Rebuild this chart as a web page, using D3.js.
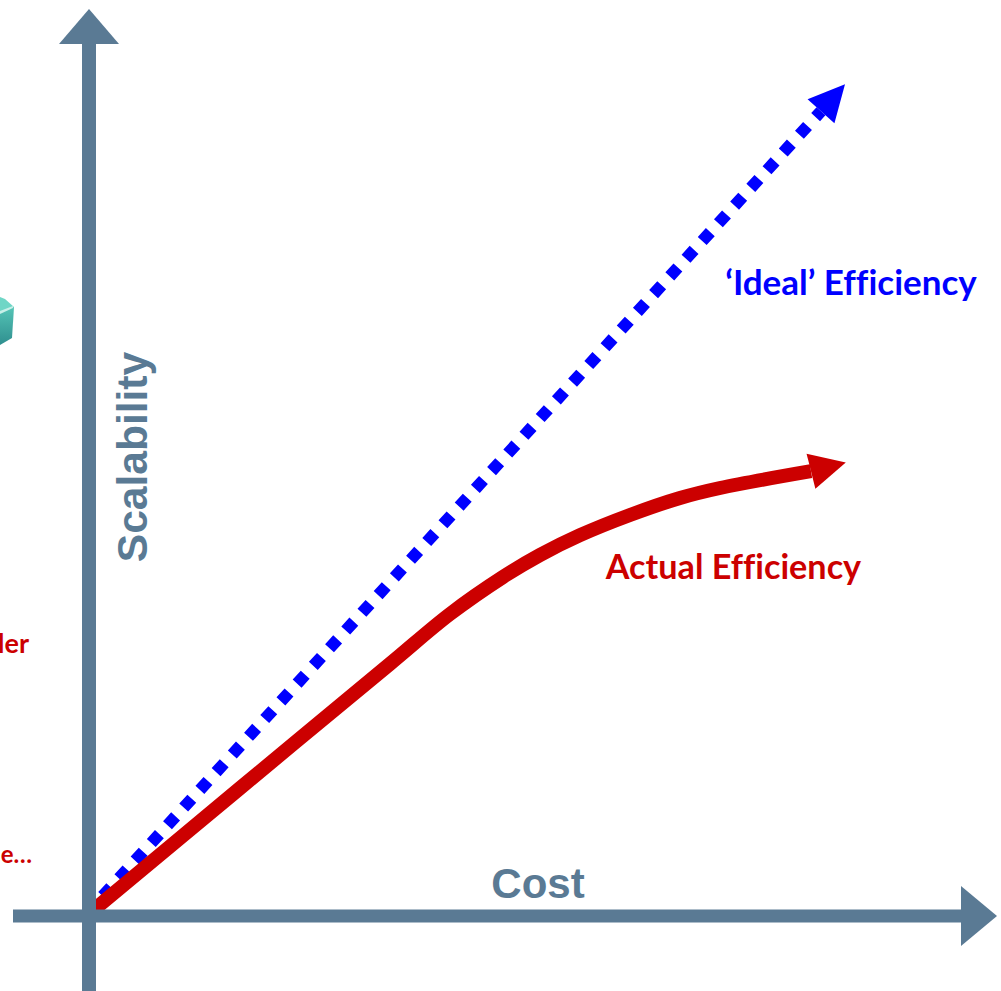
<!DOCTYPE html>
<html><head><meta charset="utf-8">
<script src="https://cdn.jsdelivr.net/npm/d3@7/dist/d3.min.js"></script>
<style>html,body{margin:0;padding:0;background:#fff;overflow:hidden}svg{display:block}text{font-variant-ligatures:none}</style>
</head><body><svg id="c" width="1001" height="991"></svg>
<script>
// Axis units: the origin is where the axes cross, 100 units is the nominal full scale
const idealCost = [1.71, 91.5];
const idealScalability = [2.49, 100.6];
const idealTip = [94.5, 103.96];
const actualCost = [0.4, 18.9, 37.6, 45.125, 51.75, 56.375, 61.375, 67.625, 73.875, 78.875, 90.25];
const actualScalability = [0.6, 16, 31.5, 37.75, 42.375, 45.125, 47.6, 50.125, 52.25, 53.5, 55.6];
const actualTip = [94.6, 56.7];
const axisLabels = {x: "Cost", y: "Scalability"};
const seriesLabels = ["\u2018Ideal\u2019 Efficiency", "Actual Efficiency"];
const croppedLabels = ["ler", "e\u2026"];

const svg = d3.select("#c");
const x = d3.scaleLinear().domain([0, 100]).range([89, 889]);
const y = d3.scaleLinear().domain([0, 100]).range([916, 116]);
const axisColor = "#5a7a94", red = "#cc0000", blue = "#0000ff";

// Arrowhead drawn at tip, pointing along the direction from base to tip
function head(g, bx, by, tx, ty, halfWidth, fill) {
  const dx = tx - bx, dy = ty - by, len = Math.hypot(dx, dy), nx = -dy / len, ny = dx / len;
  g.append("path").attr("fill", fill).attr("d", d3.line()([
    [tx, ty], [bx + nx * halfWidth, by + ny * halfWidth], [bx - nx * halfWidth, by - ny * halfWidth]
  ]) + "Z");
}

// Cropped cube at left edge
const cube = svg.append("g");
const defs = svg.append("defs");
const grad = defs.append("linearGradient").attr("id", "cubeSide").attr("x1", 0).attr("x2", 0).attr("y1", 0).attr("y2", 1);
grad.append("stop").attr("offset", 0).attr("stop-color", "#55c4b6");
grad.append("stop").attr("offset", 1).attr("stop-color", "#2f8f8f");
cube.append("path").attr("fill", "url(#cubeSide)").attr("d", "M0,310L14,307L12,338L0,345Z");
cube.append("path").attr("fill", "#6fd6c6").attr("d", "M0,297L5,299L14,307L0,312Z");
cube.append("path").attr("fill", "#c8efe8").attr("d", "M0,311L13,306L13,308L0,314Z");

// Cropped labels
const leftText = svg.append("g").attr("font-family", "Lato, 'Noto Sans', sans-serif").attr("font-weight", 700).attr("fill", red).attr("text-anchor", "end");
leftText.append("text").attr("x", 29).attr("y", 653).attr("font-size", 27).text(croppedLabels[0]);
leftText.append("text").attr("x", 32).attr("y", 863).attr("font-size", 24).text(croppedLabels[1]);

// Ideal line
const lineGen = d3.line().x(d => x(d[0])).y(d => y(d[1]));
svg.append("path").datum(d3.zip(idealCost, idealScalability)).attr("d", lineGen)
  .attr("fill", "none").attr("stroke", blue).attr("stroke-width", 12).attr("stroke-dasharray", "12 12");
head(svg, x(idealCost[1]), y(idealScalability[1]), x(idealTip[0]), y(idealTip[1]), 18, blue);

// Actual curve
const curve = d3.line().x(d => x(d[0])).y(d => y(d[1])).curve(d3.curveCatmullRom.alpha(0.5));
svg.append("path").datum(d3.zip(actualCost, actualScalability)).attr("d", curve)
  .attr("fill", "none").attr("stroke", red).attr("stroke-width", 14);
head(svg, x(actualCost[10]), y(actualScalability[10]), x(actualTip[0]), y(actualTip[1]), 18, red);

// Axes
svg.append("line").attr("x1", x(0)).attr("x2", x(0)).attr("y1", 991).attr("y2", y(109)).attr("stroke", axisColor).attr("stroke-width", 14);
svg.append("line").attr("x1", 13).attr("x2", x(109)).attr("y1", y(0)).attr("y2", y(0)).attr("stroke", axisColor).attr("stroke-width", 13);
head(svg, x(0), 44, x(0), 9, 30, axisColor);
head(svg, 961, y(0), 997, y(0), 30, axisColor);

// Axis titles
const t = svg.append("g").attr("font-family", "'Liberation Sans', Arial, sans-serif").attr("font-weight", 700).attr("fill", axisColor);
t.append("text").attr("x", 538).attr("y", 898).attr("text-anchor", "middle").attr("font-size", 42).text(axisLabels.x);
t.append("text").attr("transform", "translate(147,457) rotate(-90)").attr("text-anchor", "middle").attr("font-size", 42.5).text(axisLabels.y);

// Series labels
const s = svg.append("g").attr("font-family", "Lato, 'Noto Sans', sans-serif").attr("font-weight", 700);
s.append("text").attr("x", 851).attr("y", 295).attr("text-anchor", "middle").attr("font-size", 35).attr("fill", blue).text(seriesLabels[0]);
s.append("text").attr("x", 733.5).attr("y", 579).attr("text-anchor", "middle").attr("font-size", 34.2).attr("fill", red).text(seriesLabels[1]);
</script></body></html>
